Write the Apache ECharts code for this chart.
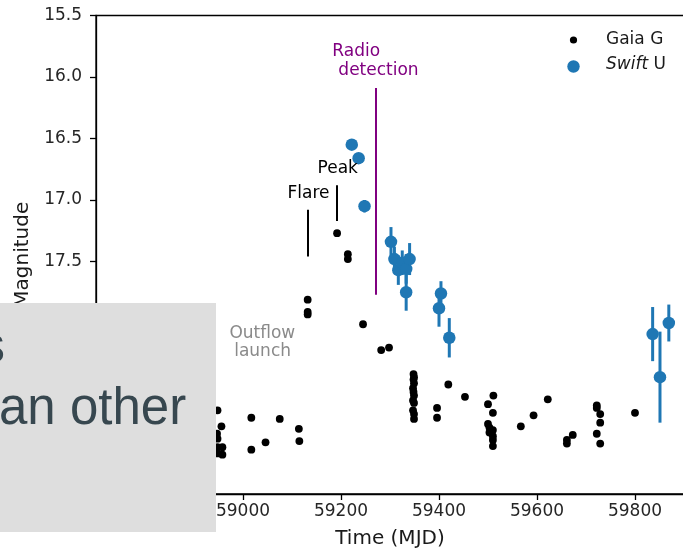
<!DOCTYPE html>
<html><head><meta charset="utf-8">
<script src="https://cdn.jsdelivr.net/npm/echarts@6/dist/echarts.min.js"></script>
<style>html,body{margin:0;padding:0;background:#fff}#c{width:683px;height:551px}</style>
</head><body><div id="c"></div>
<script>
// ---- data ----
const gaiaMJD = [58948,58956,58947,58948,58958,58958,58948,58948,59017,59017,59046,59075,59114,59115,
  59132,59132,59132,59192,59214,59214,59245,59282,59298,
  59348,59349,59348,59349,59347,59348,59349,59347,59349,59347,59349,59349,
  59396,59396,59419,59453,59511,59500,59510,59500,59503,59510,59503,59510,59510,59510,
  59567,59593,59622,59661,59661,59673,59722,59722,59729,59729,59722,59729,59800];
const gaiaMag = [18.71,18.84,18.90,18.94,19.01,19.07,19.06,19.01,18.77,19.03,18.97,18.78,18.86,18.96,
  17.81,17.91,17.93,17.27,17.44,17.48,18.01,18.22,18.20,
  18.415,18.44,18.46,18.49,18.53,18.56,18.59,18.63,18.65,18.71,18.74,18.78,
  18.69,18.77,18.50,18.60,18.59,18.66,18.73,18.82,18.85,18.87,18.89,18.92,18.95,19.00,
  18.84,18.75,18.62,18.95,18.98,18.91,18.67,18.69,18.74,18.81,18.90,18.98,18.73];

const swiftMJD = [59222,59236,59248,59302,59309,59317,59325,59333,59340,59333,59404,59400,59421,59836,59851,59869];
const swiftMag = [16.55,16.66,17.05,17.34,17.48,17.57,17.51,17.56,17.48,17.75,17.76,17.88,18.12,18.09,18.44,18.00];
const swiftErr = [0.04,0.04,0.05,0.12,0.10,0.12,0.10,0.12,0.13,0.15,0.10,0.15,0.16,0.22,0.37,0.15];

const xTicks = [58800,59000,59200,59400,59600,59800];
const yTicks = [15.5,16.0,16.5,17.0,17.5,18.0,18.5,19.0];

// event markers (vertical lines): Flare, Peak, Radio detection
const eventMJD = [59132.5,59192,59270];
const eventTop = [17.08,16.88,16.09];
const eventBottom = [17.46,17.17,17.77];

// annotation texts
const annoText = ['Flare','Peak','Radio','detection','Outflow','launch'];
const annoMJD = [59133.8,59193.3,59231,59276.5,59039.4,59040];
const annoMag = [16.95,16.745,15.79,15.95,18.085,18.235];

// ---- styles ----
const FONT = 'DejaVu Sans';
const eventColors = ['#000000','#000000','#800080'];
const annoColors = ['#000000','#000000','#800080','#800080','#8a8a8a','#8a8a8a'];

const chart = echarts.init(document.getElementById('c'), null, {renderer:'canvas'});

const option = {
  animation:false,
  backgroundColor:'#ffffff',
  grid:{left:96, top:15.5, width:588, height:478.5, show:true, borderColor:'#000', borderWidth:1.3, backgroundColor:'transparent', containLabel:false, outerBoundsMode:'none'},
  xAxis:{
    type:'value', min:58700, max:59900,
    name:'Time (MJD)', nameLocation:'middle', nameGap:35,
    nameTextStyle:{fontFamily:FONT, fontSize:20, color:'#1a1a1a'},
    axisLine:{show:true, lineStyle:{color:'#000', width:1.3}},
    axisTick:{show:true, length:6, inside:false, lineStyle:{color:'#000', width:1.3}, customValues:xTicks},
    axisLabel:{fontFamily:FONT, fontSize:17, color:'#262626', margin:9, customValues:xTicks, formatter:v=>String(v)},
    splitLine:{show:false}
  },
  yAxis:{
    type:'value', min:15.5, max:19.39, inverse:true,
    name:'Magnitude', nameLocation:'middle', nameGap:58, nameRotate:90,
    nameTextStyle:{fontFamily:FONT, fontSize:20, color:'#1a1a1a'},
    axisLine:{show:true, lineStyle:{color:'#000', width:1.3}},
    axisTick:{show:true, length:6, inside:false, lineStyle:{color:'#000', width:1.3}, customValues:yTicks},
    axisLabel:{fontFamily:FONT, fontSize:17, color:'#262626', margin:14, customValues:yTicks, formatter:v=>Number(v).toFixed(1)},
    splitLine:{show:false}
  },
  series:[
    {
      name:'Gaia G', type:'scatter', symbol:'circle', symbolSize:7.8, z:2,
      itemStyle:{color:'#000', opacity:1},
      data: gaiaMJD.map((x,i)=>[x, gaiaMag[i]])
    },
    {
      name:'Swift U err', type:'custom', z:3,
      data: swiftMJD.map((x,i)=>[x, swiftMag[i]-swiftErr[i], swiftMag[i]+swiftErr[i]]),
      encode:{x:0, y:[1,2]},
      renderItem:(params, api)=>{
        const p1 = api.coord([api.value(0), api.value(1)]);
        const p2 = api.coord([api.value(0), api.value(2)]);
        return {type:'line', shape:{x1:p1[0], y1:p1[1], x2:p2[0], y2:p2[1]}, style:{stroke:'#1f77b4', lineWidth:3}};
      }
    },
    {
      name:'Swift U', type:'scatter', symbol:'circle', symbolSize:12.5, z:4,
      itemStyle:{color:'#1f77b4', opacity:1},
      data: swiftMJD.map((x,i)=>[x, swiftMag[i]])
    },
    {
      name:'annotations', type:'scatter', symbolSize:0, z:5, silent:true,
      data: annoText.map((t,i)=>({
        value:[annoMJD[i], annoMag[i]],
        label:{show:true, position:'inside', formatter:t, color:annoColors[i], fontFamily:FONT, fontSize:17, textBorderWidth:0, opacity:1}
      })),
      markLine:{
        silent:true, symbol:['none','none'], label:{show:false},
        data: eventMJD.map((x,i)=>[
          {coord:[x, eventTop[i]], lineStyle:{color:eventColors[i], width:2, type:'solid', opacity:1}},
          {coord:[x, eventBottom[i]]}
        ])
      }
    }
  ],
  graphic:[
    // legend
    {type:'circle', shape:{cx:573.5, cy:40, r:3.6}, style:{fill:'#000'}, z:10},
    {type:'text', x:606, y:39.5, style:{text:'Gaia G', font:'17px "DejaVu Sans"', fill:'#1a1a1a', verticalAlign:'middle', align:'left'}, z:10},
    {type:'circle', shape:{cx:573.5, cy:66.5, r:6.2}, style:{fill:'#1f77b4'}, z:10},
    {type:'text', x:606, y:65, style:{
      text:'{i|Swift} U', font:'17px "DejaVu Sans"', fill:'#1a1a1a', verticalAlign:'middle', align:'left',
      rich:{i:{fontStyle:'italic', fontFamily:FONT, fontSize:17, fill:'#1a1a1a'}}
    }, z:10},
    // overlapping gray slide box
    {type:'rect', shape:{x:0, y:303, width:216, height:229}, style:{fill:'#dedede'}, z:100},
    {type:'text', x:5, y:347.5, style:{text:'s', font:'52px "Liberation Sans"', fill:'#37474f', align:'right', verticalAlign:'middle'}, z:101},
    {type:'text', x:-1, y:409.5, style:{text:'an other', font:'51px "Liberation Sans"', fill:'#37474f', align:'left', verticalAlign:'middle'}, z:101}
  ]
};
chart.setOption(option);
</script>
</body></html>
